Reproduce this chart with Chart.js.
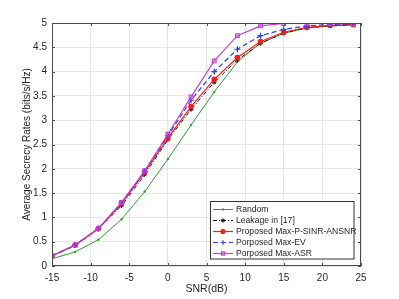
<!DOCTYPE html>
<html>
<head>
<meta charset="utf-8">
<script src="https://cdn.jsdelivr.net/npm/chart.js@4.4.1/dist/chart.umd.min.js"></script>
<style>
  html, body { margin: 0; padding: 0; background: #fff; }
  #wrap { width: 399px; height: 299px; }
</style>
</head>
<body>
<div id="wrap"><canvas id="rateChart" width="399" height="299"></canvas></div>
<script>
/* -------------------------
   data
   ------------------------- */
const snr = [-15, -12, -9, -6, -3, 0, 3, 6, 9, 12, 15, 18, 21, 24];
const randomRate  = [0.15, 0.29, 0.54, 0.96, 1.53, 2.20, 2.90, 3.58, 4.20, 4.59, 4.79, 4.90, 4.94, 4.96];
const leakageRate = [0.20, 0.42, 0.76, 1.24, 1.88, 2.60, 3.22, 3.78, 4.24, 4.58, 4.79, 4.90, 4.94, 4.96];
const maxSinrRate = [0.21, 0.43, 0.77, 1.28, 1.93, 2.63, 3.28, 3.84, 4.29, 4.62, 4.81, 4.91, 4.95, 4.97];
const maxEvRate   = [0.21, 0.43, 0.77, 1.30, 1.95, 2.68, 3.41, 4.00, 4.46, 4.74, 4.87, 4.94, 4.97, 4.98];
const maxAsrRate  = [0.21, 0.43, 0.77, 1.31, 1.96, 2.71, 3.48, 4.22, 4.74, 4.94, 4.99, 4.99, 4.99, 4.99];

const xTicks = [-15, -10, -5, 0, 5, 10, 15, 20, 25];
const yTicks = [0, 0.5, 1, 1.5, 2, 2.5, 3, 3.5, 4, 4.5, 5];
const legendNames = ['Random', 'Leakage in [17]', 'Proposed Max-P-SINR-ANSNR', 'Porposed Max-EV', 'Porposed Max-ASR'];

const FONT = 'Liberation Sans, Arial, Helvetica, sans-serif';
const AXIS_COLOR = '#4d4d4d';

const pts = (ys) => snr.map((x, i) => ({ x, y: ys[i] }));

const datasets = [
  { label: legendNames[0], data: pts(randomRate), borderColor: '#2f9a2f', backgroundColor: '#2f9a2f',
    borderWidth: 1, pointRadius: 0.8, pointStyle: 'circle', order: 4 },
  { label: legendNames[1], data: pts(leakageRate), borderColor: '#111', backgroundColor: '#111',
    borderWidth: 1, borderDash: [4, 2, 1, 2], pointRadius: 2.2, pointStyle: 'star', pointBorderWidth: 1, order: 3 },
  { label: legendNames[2], data: pts(maxSinrRate), borderColor: '#ff1a1a', backgroundColor: '#ff1a1a',
    borderWidth: 1.2, pointRadius: 2.2, pointStyle: 'circle', order: 2 },
  { label: legendNames[3], data: pts(maxEvRate), borderColor: '#2a3cff', backgroundColor: '#2a3cff',
    borderWidth: 1.2, borderDash: [5, 3], pointRadius: 3, pointStyle: 'cross', pointBorderWidth: 1.2, order: 1 },
  { label: legendNames[4], data: pts(maxAsrRate), borderColor: '#cc3fcc', backgroundColor: 'rgba(0,0,0,0)',
    borderWidth: 1.2, pointRadius: 2.6, pointStyle: 'rect', pointBorderWidth: 1.2, order: 0 }
];

// box, inward ticks, axis titles and an in-plot legend (matlab look)
const matlabFrame = {
  id: 'matlabFrame',
  afterDraw(chart) {
    const { ctx, chartArea: a, scales } = chart;
    ctx.save();
    ctx.strokeStyle = AXIS_COLOR;
    ctx.lineWidth = 1;
    ctx.strokeRect(a.left + 0.5, a.top + 0.5, a.right - a.left - 1, a.bottom - a.top - 1);
    ctx.beginPath();
    xTicks.forEach(v => {
      const px = Math.round(scales.x.getPixelForValue(v)) + 0.5;
      ctx.moveTo(px, a.bottom); ctx.lineTo(px, a.bottom - 3);
      ctx.moveTo(px, a.top); ctx.lineTo(px, a.top + 3);
    });
    yTicks.forEach(v => {
      const py = Math.round(scales.y.getPixelForValue(v)) + 0.5;
      ctx.moveTo(a.left, py); ctx.lineTo(a.left + 3, py);
      ctx.moveTo(a.right, py); ctx.lineTo(a.right - 3, py);
    });
    ctx.stroke();

    // axis titles
    ctx.fillStyle = '#262626';
    ctx.font = '10.5px ' + FONT;
    ctx.textAlign = 'center';
    ctx.textBaseline = 'middle';
    ctx.fillText('SNR(dB)', (a.left + a.right) / 2, 289);
    ctx.font = '10px ' + FONT;
    ctx.translate(27, (a.top + a.bottom) / 2);
    ctx.rotate(-Math.PI / 2);
    ctx.fillText('Average Secrecy Rates (bits/s/Hz)', 0, 0);
    ctx.restore();

    // legend
    ctx.save();
    const bx = 210.5, by = 201.5, bw = 143.5, bh = 57.5;
    ctx.fillStyle = '#fff';
    ctx.fillRect(bx, by, bw, bh);
    ctx.strokeStyle = '#333';
    ctx.lineWidth = 1;
    ctx.strokeRect(bx, by, bw, bh);
    ctx.font = '8.6px ' + FONT;
    ctx.textAlign = 'left';
    ctx.textBaseline = 'middle';
    datasets.forEach((ds, i) => {
      const y = 209.5 + i * 11;
      ctx.strokeStyle = ds.borderColor;
      ctx.lineWidth = ds.borderWidth;
      ctx.setLineDash(ds.borderDash || []);
      ctx.beginPath();
      ctx.moveTo(213, y); ctx.lineTo(233, y);
      ctx.stroke();
      ctx.setLineDash([]);
      ctx.fillStyle = ds.backgroundColor;
      ctx.strokeStyle = ds.borderColor;
      ctx.lineWidth = ds.pointBorderWidth || 1;
      Chart.helpers.drawPoint(ctx, {
        pointStyle: ds.pointStyle, radius: Math.min(ds.pointRadius, 2.2), rotation: 0,
        borderWidth: ds.pointBorderWidth || 1
      }, 223, y);
      ctx.fillStyle = '#262626';
      ctx.fillText(ds.label, 236, y + 0.5);
    });
    ctx.restore();
  }
};

new Chart(document.getElementById('rateChart'), {
  type: 'line',
  data: { datasets },
  options: {
    responsive: false,
    animation: false,
    devicePixelRatio: 1,
    layout: { padding: { left: 0, right: 38, top: 23, bottom: 0 } },
    plugins: { legend: { display: false }, tooltip: { enabled: false } },
    elements: { line: { tension: 0 } },
    scales: {
      x: {
        type: 'linear', min: -15, max: 25,
        afterBuildTicks: (s) => { s.ticks = xTicks.map(v => ({ value: v })); },
        afterFit: (s) => { s.height = 33; },
        grid: { color: '#e6e6e6', drawTicks: false },
        border: { display: false },
        ticks: { padding: 6, color: '#262626', font: { size: 10, family: FONT }, maxRotation: 0,
                 callback: (v) => String(v) }
      },
      y: {
        type: 'linear', min: 0, max: 5,
        afterBuildTicks: (s) => { s.ticks = yTicks.map(v => ({ value: v })); },
        afterFit: (s) => { s.width = 52; },
        grid: { color: '#e6e6e6', drawTicks: false },
        border: { display: false },
        ticks: { padding: 5, color: '#262626', font: { size: 10, family: FONT },
                 callback: (v) => String(v) }
      }
    }
  },
  plugins: [matlabFrame]
});
</script>
</body>
</html>
